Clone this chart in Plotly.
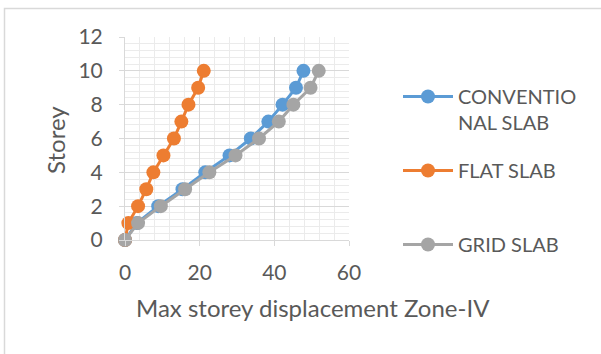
import plotly.graph_objects as go

storey = [0, 1, 2, 3, 4, 5, 6, 7, 8, 9, 10]
conventional = [0, 3.2, 8.9, 15.4, 21.5, 28.0, 33.7, 38.4, 42.2, 45.8, 47.8]
flat = [0, 0.9, 3.5, 5.7, 7.6, 10.3, 13.1, 15.1, 17.0, 19.6, 21.1]
grid = [0, 3.5, 9.6, 16.1, 22.6, 29.6, 35.9, 41.2, 45.1, 49.7, 51.9]

names = ["CONVENTIO<br>NAL SLAB", "FLAT SLAB", "GRID SLAB"]
colors = ["#5B9BD5", "#ED7D31", "#A5A5A5"]

W, H = 601, 354
L, R, T, B = 125, 349, 37, 240
FONT = "Lato"
TXT = "#595959"

def px2x(px):
    return (px - L) / (R - L)

def px2y(py):
    return (B - py) / (B - T)

fig = go.Figure()
series = [conventional, flat, grid]
legend_ids = ["legend", "legend2", "legend3"]
for vals, name, col, lg in zip(series, names, colors, legend_ids):
    fig.add_trace(go.Scatter(
        x=vals, y=storey, name=name, mode="lines+markers",
        line=dict(color=col, width=3),
        marker=dict(color=col, size=14),
        legend=lg, cliponaxis=False,
    ))

axis_common = dict(
    showline=True, linecolor="#D9D9D9", linewidth=1,
    showgrid=True, gridcolor="#D9D9D9", gridwidth=1,
    zeroline=False, ticks="outside", tickcolor="#D9D9D9", ticklen=5,
    tickfont=dict(family=FONT, size=21, color=TXT),
)

fig.update_xaxes(range=[0, 60], dtick=20, tick0=0,
                 minor=dict(dtick=4, showgrid=True, gridcolor="#EBEBEB", gridwidth=1),
                 ticklabelstandoff=9, **axis_common)
fig.update_yaxes(range=[0, 12], dtick=2, tick0=0,
                 minor=dict(dtick=0.4, showgrid=True, gridcolor="#EBEBEB", gridwidth=1),
                 ticklabelstandoff=12, **axis_common)

legfont = dict(family=FONT, size=20, color=TXT)
leg_common = dict(font=legfont, bgcolor="rgba(0,0,0,0)", xref="paper", yref="paper",
                  xanchor="left", itemwidth=50, valign="top", tracegroupgap=0)
fig.update_layout(
    width=W, height=H,
    margin=dict(l=L, r=W - R, t=T, b=H - B),
    paper_bgcolor="white", plot_bgcolor="white",
    showlegend=True,
    legend=dict(x=px2x(398), y=px2y(96 - 19), yanchor="top", **leg_common),
    legend2=dict(x=px2x(398), y=px2y(170 - 19), yanchor="top", **leg_common),
    legend3=dict(x=px2x(398), y=px2y(244 - 19), yanchor="top", **leg_common),
    annotations=[
        dict(text="Max storey displacement Zone-IV", xref="paper", yref="paper",
             x=px2x(313), y=px2y(307), xanchor="center", yanchor="middle",
             showarrow=False, font=dict(family=FONT, size=24, color=TXT)),
        dict(text="Storey", xref="paper", yref="paper", textangle=-90,
             x=px2x(55), y=px2y(140), xanchor="center", yanchor="middle",
             showarrow=False, font=dict(family=FONT, size=24, color=TXT)),
    ],
    shapes=[
        dict(type="rect", xref="paper", yref="paper",
             x0=px2x(4.5), x1=px2x(640), y0=px2y(8.5), y1=px2y(400),
             line=dict(color="#D9D9D9", width=1.5), fillcolor="rgba(0,0,0,0)"),
    ],
)

fig.write_html("out.html")
